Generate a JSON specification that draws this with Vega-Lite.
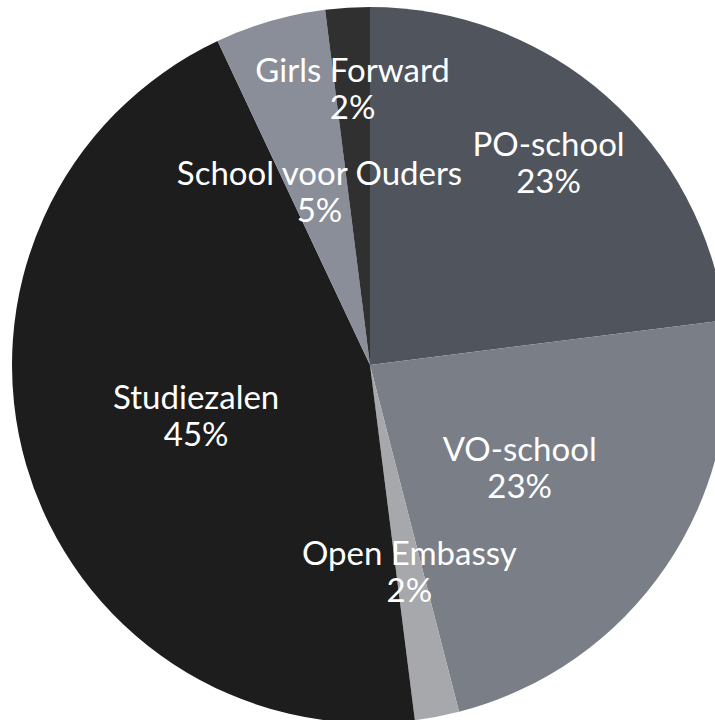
{
  "$schema": "https://vega.github.io/schema/vega-lite/v6.json",
  "width": 740,
  "height": 730,
  "autosize": "none",
  "padding": 0,
  "background": "white",
  "config": {"view": {"stroke": null}},
  "data": {"values": [
    {"name": "PO-school", "value": 23, "rank": 1},
    {"name": "VO-school", "value": 23, "rank": 2},
    {"name": "Open Embassy", "value": 2, "rank": 3},
    {"name": "Studiezalen", "value": 45, "rank": 4},
    {"name": "School voor Ouders", "value": 5, "rank": 5},
    {"name": "Girls Forward", "value": 2, "rank": 6}
  ]},
  "transform": [
    {"calculate": "[datum.name, datum.value + '%']", "as": "label"}
  ],
  "encoding": {
    "theta": {"field": "value", "type": "quantitative", "stack": true},
    "order": {"field": "rank", "type": "quantitative"}
  },
  "layer": [
    {
      "mark": {"type": "arc", "radius": 358},
      "encoding": {
        "color": {
          "field": "name", "type": "nominal", "legend": null,
          "scale": {
            "domain": ["PO-school", "VO-school", "Open Embassy", "Studiezalen", "School voor Ouders", "Girls Forward"],
            "range": ["#50555d", "#7a7e87", "#a6a8ac", "#1d1d1d", "#8a8e98", "#303030"]
          }
        }
      }
    },
    {
      "mark": {"type": "text", "radius": 181, "dy": -16, "baseline": "middle", "lineHeight": 37, "fontSize": 33, "font": "Lato", "color": "white"},
      "encoding": {
        "detail": {"field": "name", "type": "nominal"},
        "text": {"condition": {"test": "indexof(['PO-school','Girls Forward','Open Embassy'], datum.name) < 0", "field": "label"}, "value": ""}
      }
    },
    {
      "mark": {"type": "text", "radius": 270, "dy": -16, "baseline": "middle", "lineHeight": 37, "fontSize": 33, "font": "Lato", "color": "white"},
      "encoding": {
        "detail": {"field": "name", "type": "nominal"},
        "text": {"condition": {"test": "datum.name === 'PO-school'", "field": "label"}, "value": ""}
      }
    },
    {
      "mark": {"type": "text", "radius": 278, "dy": -16, "baseline": "middle", "lineHeight": 37, "fontSize": 33, "font": "Lato", "color": "white"},
      "encoding": {
        "detail": {"field": "name", "type": "nominal"},
        "text": {"condition": {"test": "datum.name === 'Girls Forward'", "field": "label"}, "value": ""}
      }
    },
    {
      "mark": {"type": "text", "radius": 210, "dy": -16, "baseline": "middle", "lineHeight": 37, "fontSize": 33, "font": "Lato", "color": "white"},
      "encoding": {
        "detail": {"field": "name", "type": "nominal"},
        "text": {"condition": {"test": "datum.name === 'Open Embassy'", "field": "label"}, "value": ""}
      }
    }
  ]
}
